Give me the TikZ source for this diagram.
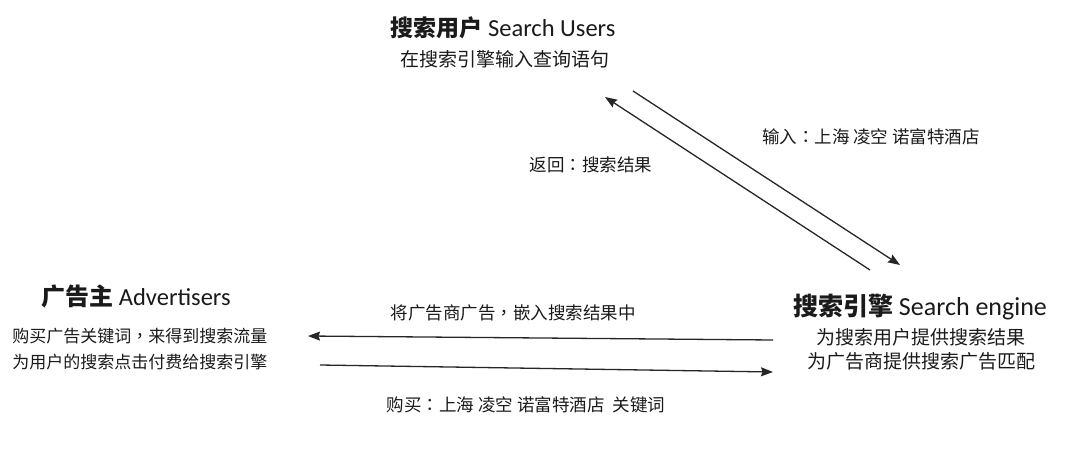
\documentclass[tikz,border=0pt]{standalone}
\usepackage{fontspec}
\setmainfont{Carlito}
\newfontfamily\cjk{Noto Sans CJK SC}
\newfontfamily\cjktc{Noto Sans CJK TC}
\newcommand{\zcolon}{{\cjktc ：}}
\newcommand{\zcomma}{{\cjktc ，}}
\usetikzlibrary{arrows.meta}
\definecolor{ink}{HTML}{1A1A1A}
\definecolor{arrowc}{HTML}{262626}
\tikzset{
  title/.style={text=ink, inner sep=0pt, font=\fontsize{24.5}{28}\selectfont},
  body/.style={text=ink, inner sep=0pt, align=center, font=\cjk\fontsize{18}{25}\selectfont},
  lab/.style={text=ink, inner sep=0pt, font=\cjk\fontsize{17.5}{22}\selectfont},
  flow/.style={draw=arrowc, line width=1.3pt, -{Stealth[length=12pt,width=9pt,inset=1.5pt]}}
}
\begin{document}
\begin{tikzpicture}[x=1pt,y=-1pt]
\useasboundingbox (0,0) rectangle (1080,468);
% Search users
\node[title] (ut) at (503,28) {{\cjk\bfseries\fontsize{23}{27}\selectfont 搜索用户} Search Users};
\node[body, font=\cjk\fontsize{19}{25}\selectfont] (ub) at (505,59) {在搜索引擎输入查询语句};
% Advertisers
\node[title] (at) at (136,296) {{\cjk\bfseries\fontsize{24}{27}\selectfont 广告主} Advertisers};
\node[body, font=\cjk\fontsize{17}{26}\selectfont] (ab) at (140,349) {购买广告关键词\zcomma 来得到搜索流量\\为用户的搜索点击付费给搜索引擎};
% Search engine
\node[title, font=\fontsize{26}{28}\selectfont] (st) at (920,307) {{\cjk\bfseries\fontsize{25}{28}\selectfont 搜索引擎} Search engine};
\node[body, font=\cjk\fontsize{19}{24}\selectfont] (sb) at (921,349) {为搜索用户提供搜索结果\\为广告商提供搜索广告匹配};
% labels
\node[lab] (l1) at (871,137) {输入\zcolon 上海 凌空 诺富特酒店};
\node[lab] (l2) at (591,165) {返回\zcolon 搜索结果};
\node[lab] (l3) at (513,313) {将广告商广告\zcomma 嵌入搜索结果中};
\node[lab] (l4) at (526,405) {购买\zcolon 上海 凌空 诺富特酒店\ \ 关键词};
% arrow endpoints
\coordinate (d1s) at (633,91);
\coordinate (d1e) at (900,265);
\coordinate (d2s) at (870,270);
\coordinate (d2e) at (605,97);
\coordinate (h1s) at (773,340);
\coordinate (h1e) at (308,336);
\coordinate (h2s) at (320,365);
\coordinate (h2e) at (773,372);
\draw[flow] (d1s) -- (d1e);
\draw[flow] (d2s) -- (d2e);
\draw[flow] (h1s) -- (h1e);
\draw[flow] (h2s) -- (h2e);
\end{tikzpicture}
\end{document}
